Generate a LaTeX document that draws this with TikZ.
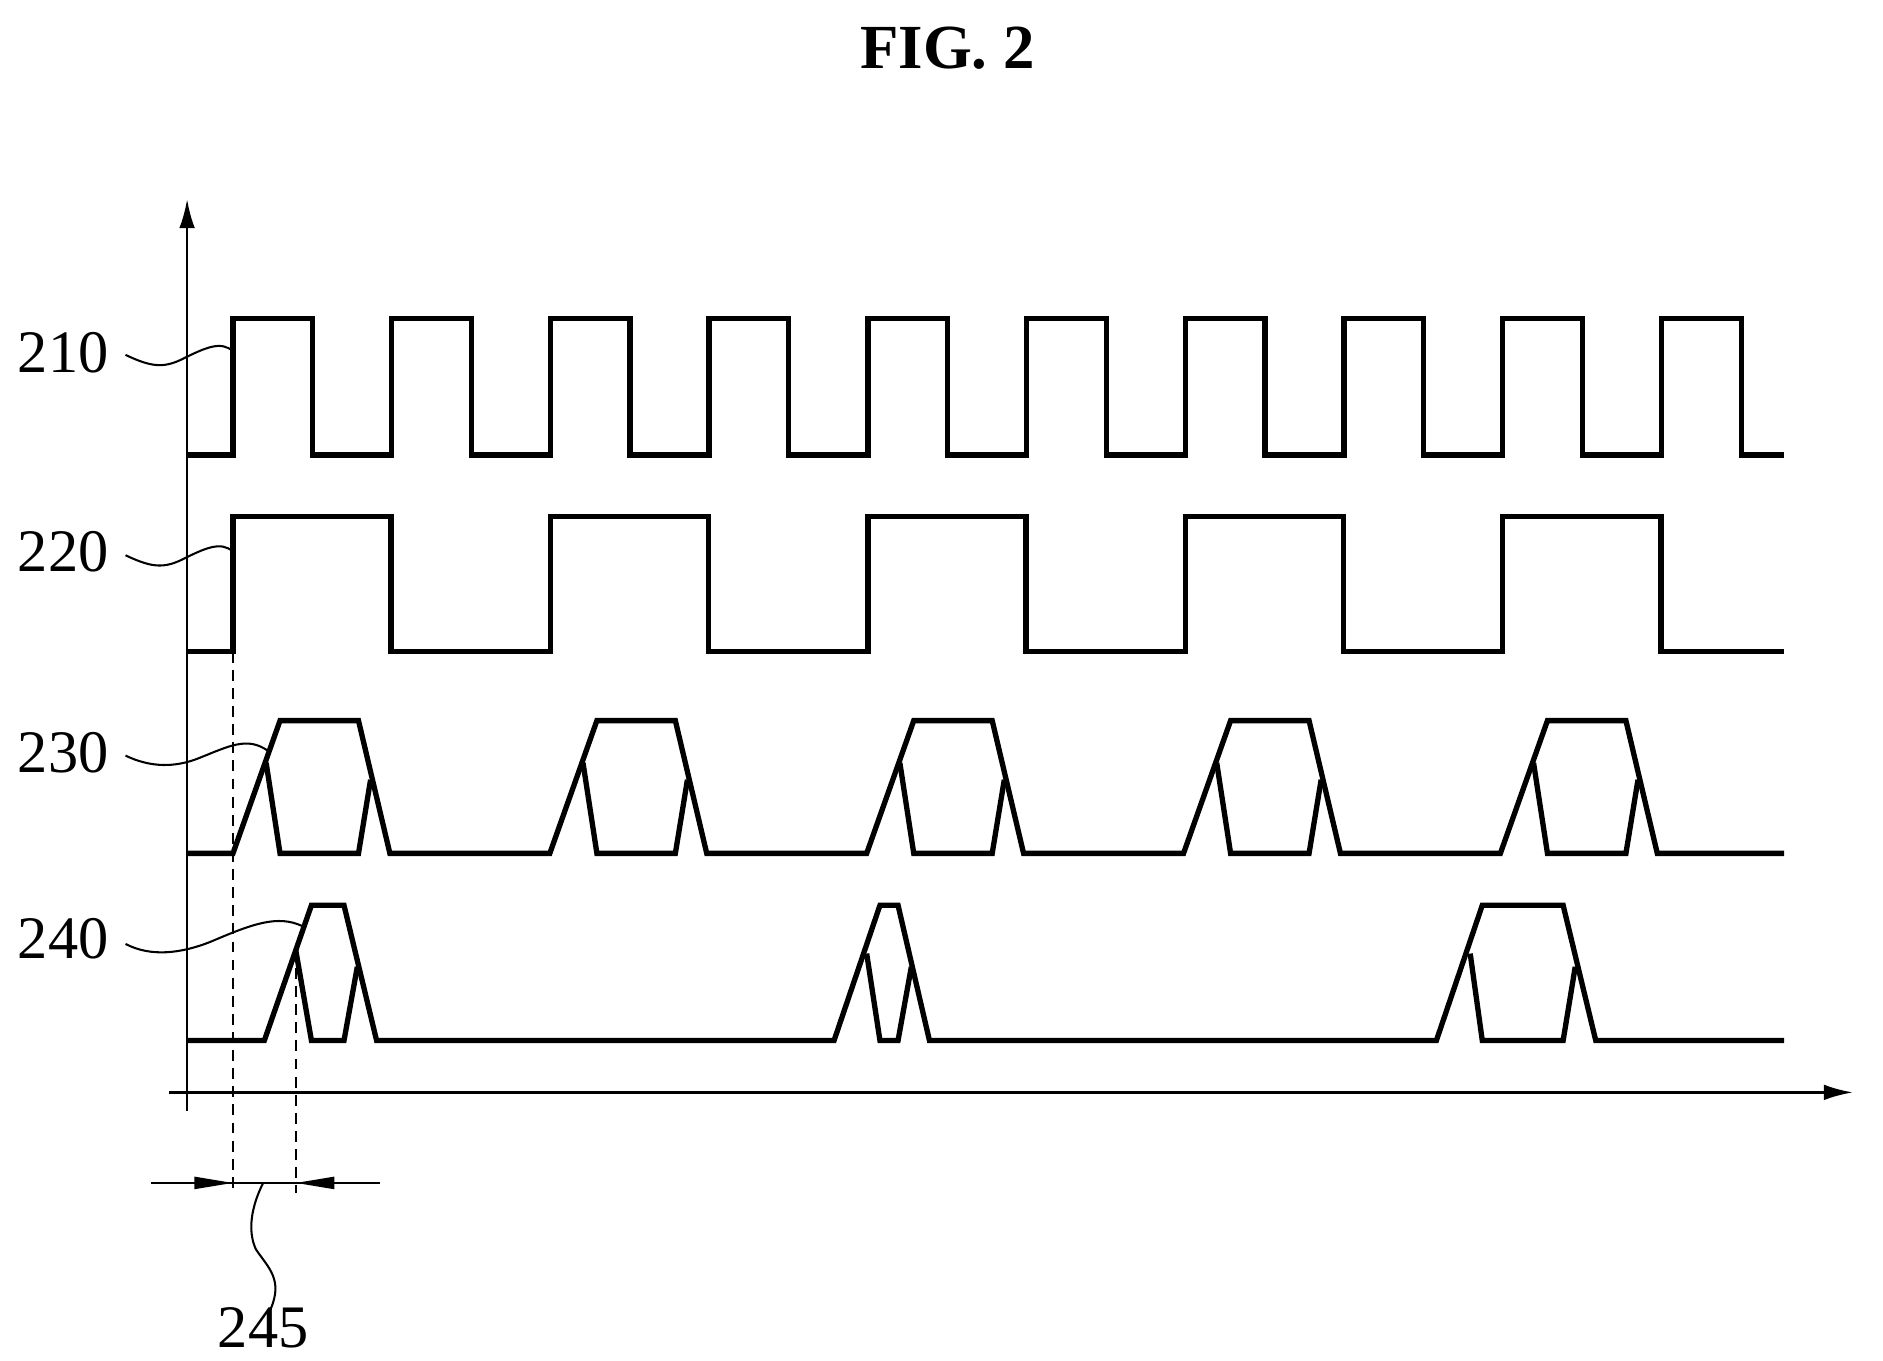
\documentclass[tikz,border=0pt]{standalone}
\usepackage{fontspec}
\setmainfont{Liberation Serif}
\usetikzlibrary{arrows.meta}
\begin{document}
\begin{tikzpicture}[x=1pt,y=-1pt,
  sig/.style={line width=4.4pt,line join=miter},
  ax/.style={line width=2.2pt},
  lead/.style={line width=1.7pt},
  lbl/.style={font=\fontsize{50}{54}\selectfont,inner sep=0pt},
  dsh/.style={line width=1.5pt,dash pattern=on 9pt off 6pt}]
\useasboundingbox (0,0) rectangle (1560,1127);
\node[font=\bfseries\fontsize{52}{56}\selectfont] (title) at (785,40) {FIG. 2};
% axes
\draw[ax,-{Latex[length=24pt,width=13pt]}] (155,920) -- (155,165);
\draw[ax,-{Latex[length=24pt,width=13pt]}] (140,905) -- (1535,905);
% 210
\draw[sig] (155,377)
  \foreach \i in {0,...,9}{ -- ({193+131.5*\i},377) -- ({193+131.5*\i},264) -- ({259+131.5*\i},264) -- ({259+131.5*\i},377)} -- (1478,377);
% 220
\draw[sig] (155,540)
  \foreach \i in {0,...,4}{ -- ({193+263*\i},540) -- ({193+263*\i},428) -- ({324+263*\i},428) -- ({324+263*\i},540)} -- (1478,540);
% 230
\draw[sig] (155,707)
  \foreach \i in {0,...,4}{ -- ({193+262.5*\i},707) -- ({232+262.5*\i},597) -- ({297+262.5*\i},597) -- ({323+262.5*\i},707)} -- (1478,707);
\foreach \i in {0,...,4}{
  \draw[sig] ({220.5+262.5*\i},632) -- ({232+262.5*\i},707) -- ({297+262.5*\i},707) -- ({307+262.5*\i},646);
}
% 240
\draw[sig] (155,862) -- (219,862) -- (258,750) -- (285,750) -- (312,862)
  -- (691,862) -- (729,750) -- (744,750) -- (770,862)
  -- (1190,862) -- (1228,750) -- (1295,750) -- (1322,862) -- (1478,862);
\draw[sig] (245,787) -- (258,862) -- (285,862) -- (296,801);
\draw[sig] (718,790) -- (729,862) -- (744,862) -- (755,801);
\draw[sig] (1218,790) -- (1228,862) -- (1295,862) -- (1305,801);
% labels
\node[lbl,anchor=east] (l210) at (90,292) {210};
\node[lbl,anchor=east] (l220) at (90,457) {220};
\node[lbl,anchor=east] (l230) at (90,624) {230};
\node[lbl,anchor=east] (l240) at (90,778) {240};
\node[lbl] (l245) at (218,1100) {245};
\coordinate (t210) at (193,291);
\coordinate (t220) at (193,457);
\coordinate (t230) at (222,622);
\coordinate (t240) at (250,767);
\draw[lead] (104,294) .. controls (125,304) and (135,305) .. (150,298) .. controls (170,288) and (183,282) .. (t210);
\draw[lead] (104,460) .. controls (125,470) and (135,471) .. (150,464) .. controls (170,454) and (183,448) .. (t220);
\draw[lead] (104,626) .. controls (125,636) and (145,636) .. (165,628) .. controls (190,618) and (205,610) .. (t230);
\draw[lead] (104,782) .. controls (125,793) and (150,790) .. (175,780) .. controls (210,765) and (230,758) .. (t240);
% dashed
\draw[dsh] (193,540) -- (193,988);
\draw[dsh] (245,787) -- (245,988);
% dimension
\coordinate (d1) at (125,980);
\coordinate (d2) at (315,980);
\draw[lead] (d1) -- (d2);
\draw[lead,-{Triangle[length=32pt,width=10pt]}] (155,980) -- (193,980);
\draw[lead,-{Triangle[length=32pt,width=10pt]}] (283,980) -- (245,980);
\draw[lead] (218,980) .. controls (208,1000) and (205,1020) .. (212,1035) .. controls (222,1050) and (235,1060) .. (224,1085);
\end{tikzpicture}
\end{document}
